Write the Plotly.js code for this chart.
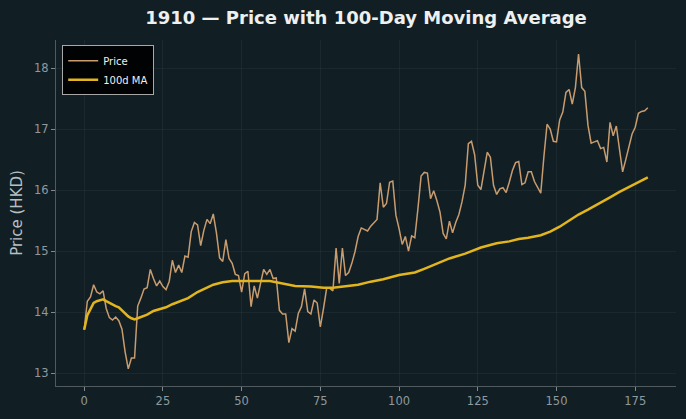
<!DOCTYPE html>
<html>
<head>
<meta charset="utf-8">
<script src="https://cdn.plot.ly/plotly-3.0.1.min.js"></script>
<style>html,body{margin:0;padding:0;background:#111f25;}#chart{width:686px;height:419px;}</style>
</head>
<body>
<div id="chart"></div>
<script>
const priceValues = [
13.71,14.18,14.25,14.45,14.33,14.30,14.35,14.06,13.91,13.87,
13.92,13.86,13.72,13.35,13.07,13.25,13.25,14.10,14.23,14.38,
14.40,14.70,14.55,14.43,14.51,14.42,14.37,14.50,14.85,14.65,
14.77,14.65,14.92,14.90,15.32,15.47,15.43,15.09,15.34,15.52,
15.45,15.61,15.30,14.89,14.83,15.19,14.88,14.80,14.62,14.60,
14.33,14.63,14.67,14.09,14.43,14.23,14.47,14.70,14.62,14.70,
14.55,14.56,14.03,13.97,13.97,13.50,13.73,13.69,13.98,14.09,
14.38,14.01,13.97,14.20,14.15,13.76,14.06,14.39,14.39,14.35,
15.05,14.47,15.05,14.60,14.65,14.80,14.99,15.24,15.38,15.35,
15.33,15.41,15.46,15.52,16.12,15.72,15.78,16.13,16.15,15.59,
15.37,15.11,15.24,15.00,15.25,15.22,15.70,16.23,16.29,16.28,
15.86,15.99,15.83,15.64,15.29,15.20,15.49,15.30,15.47,15.60,
15.81,16.08,16.76,16.80,16.58,16.08,16.01,16.33,16.62,16.54,
16.08,15.93,16.02,16.04,15.96,16.13,16.32,16.45,16.47,16.09,
16.12,16.30,16.30,16.14,16.05,15.95,16.55,17.08,17.00,16.80,
16.79,17.15,17.28,17.60,17.65,17.41,17.68,18.23,17.68,17.62,
17.06,16.77,16.79,16.81,16.68,16.70,16.46,17.11,16.89,17.05,
16.67,16.30,16.50,16.72,16.92,17.03,17.26,17.29,17.30,17.35
];
const priceDays = priceValues.map((v, i) => i);

const maDays = [0,1,2,3,4,5,6,7,8,9,10,11,12,13,14,15,16,17,18,20,22,24,26,28,30,33,36,38,41,44,47,50,55,59,63,67,72,76,79,83,87,91,95,100,105,108,111,116,121,126,131,135,138,141,145,148,151,154,157,160,164,167,170,174,177,179];
const maValues = [13.71,13.95,14.05,14.15,14.18,14.20,14.21,14.18,14.15,14.12,14.10,14.08,14.03,13.98,13.93,13.90,13.88,13.90,13.92,13.96,14.02,14.05,14.08,14.13,14.17,14.23,14.33,14.38,14.45,14.49,14.51,14.51,14.51,14.51,14.47,14.43,14.42,14.40,14.40,14.42,14.45,14.50,14.54,14.61,14.65,14.71,14.77,14.88,14.96,15.06,15.13,15.16,15.20,15.22,15.26,15.32,15.40,15.50,15.60,15.68,15.79,15.88,15.97,16.08,16.16,16.21];

const xTicks = [0,25,50,75,100,125,150,175];
const yTicks = [13,14,15,16,17,18];

const traces = [
  {x: priceDays, y: priceValues, type: 'scatter', mode: 'lines', name: 'Price',
   line: {color: '#c89c6e', width: 1.5}},
  {x: maDays, y: maValues, type: 'scatter', mode: 'lines', name: '100d MA',
   line: {color: '#e2b41e', width: 2.5}}
];

const layout = {
  width: 686, height: 419,
  paper_bgcolor: '#111f25', plot_bgcolor: '#111f25',
  margin: {l: 56, r: 10, t: 40, b: 33},
  font: {family: 'DejaVu Sans', color: '#8f999e'},
  title: {text: '<b>1910 — Price with 100-Day Moving Average</b>', xref: 'paper', x: 0.5, xanchor: 'center',
          yref: 'container', y: 0.958, yanchor: 'middle',
          font: {family: 'DejaVu Sans', size: 18, color: '#eef0f0'}},
  showlegend: true,
  legend: {x: 0.01, y: 0.985, xanchor: 'left', yanchor: 'top', bgcolor: 'rgba(0,0,0,0.92)',
           bordercolor: '#a8a8a8', borderwidth: 1, font: {size: 10, color: '#f0f0f0'},
           tracegroupgap: 0, itemwidth: 30},
  xaxis: {range: [-8.95, 187.95], tickvals: xTicks, ticktext: xTicks.map(String),
          showgrid: true, gridcolor: 'rgba(255,255,255,0.045)', zeroline: false,
          showline: true, linecolor: '#505a5e', linewidth: 1, ticks: 'outside', ticklen: 4, tickcolor: '#808a8e',
          tickfont: {size: 11.5, color: '#8f999e'}, mirror: false},
  yaxis: {range: [12.79, 18.46], tickvals: yTicks, ticktext: yTicks.map(String),
          showgrid: true, gridcolor: 'rgba(255,255,255,0.045)', zeroline: false,
          showline: true, linecolor: '#505a5e', linewidth: 1, ticks: 'outside', ticklen: 4, tickcolor: '#808a8e',
          tickfont: {size: 11.5, color: '#8f999e'},
          title: {text: 'Price (HKD)', font: {size: 15, color: '#b7bfc3'}, standoff: 7}}
};

Plotly.newPlot('chart', traces, layout, {displayModeBar: false, staticPlot: true});
</script>
</body>
</html>
